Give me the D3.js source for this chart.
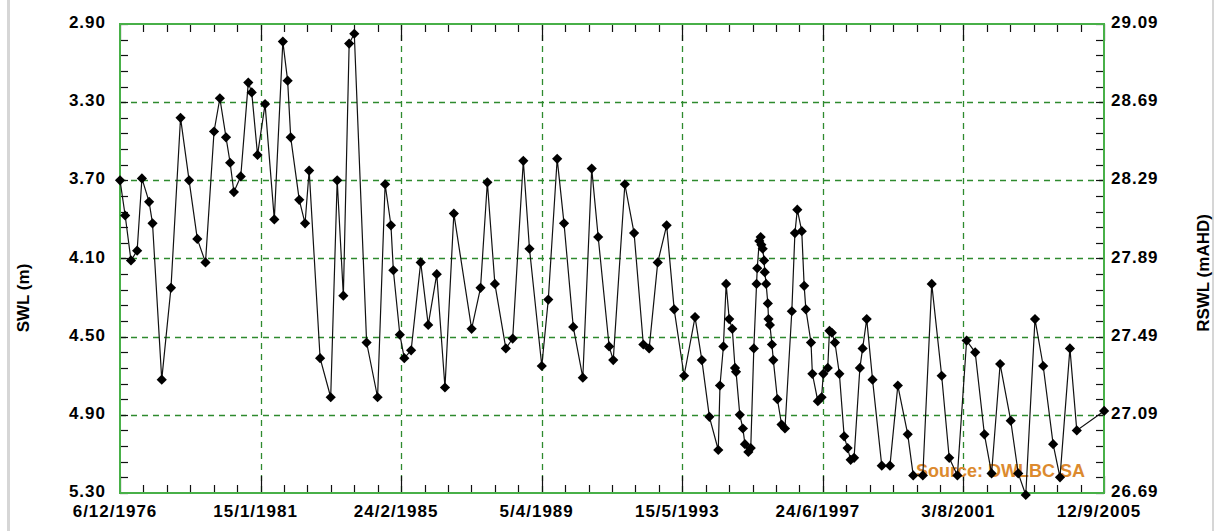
<!DOCTYPE html>
<html>
<head>
<meta charset="utf-8">
<script src="https://cdn.jsdelivr.net/npm/d3@7"></script>
<style>
  body { margin: 0; background: #fff; }
  svg text { font-family: "Liberation Sans", Arial, sans-serif; font-weight: bold; }
</style>
</head>
<body>
<div id="vis"></div>
<script>

const FRAME_WIDTH = 1214;
const FRAME_HEIGHT = 531;
const MARGINS = {left: 120, right: 110, top: 24, bottom: 38};

// observation dates (decimal years) and standing water level (m below surface)
const obsYear = [
  1976.93, 1977.08, 1977.25, 1977.43, 1977.57, 1977.78, 1977.88, 1978.15, 1978.42, 1978.70,
  1978.95, 1979.19, 1979.43, 1979.68, 1979.85, 1980.03, 1980.15, 1980.26, 1980.46, 1980.68,
  1980.78, 1980.95, 1981.17, 1981.44, 1981.69, 1981.83, 1981.92, 1982.17, 1982.34, 1982.46,
  1982.78, 1983.09, 1983.28, 1983.46, 1983.63, 1983.78, 1984.14, 1984.46, 1984.68, 1984.85,
  1984.92, 1985.11, 1985.24, 1985.44, 1985.72, 1985.94, 1986.19, 1986.43, 1986.69, 1987.21,
  1987.47, 1987.67, 1987.89, 1988.21, 1988.41, 1988.72, 1988.90, 1989.26, 1989.45, 1989.71,
  1989.91, 1990.18, 1990.46, 1990.72, 1990.91, 1991.23, 1991.35, 1991.69, 1991.96, 1992.23,
  1992.40, 1992.65, 1992.91, 1993.13, 1993.42, 1993.74, 1993.94, 1994.16, 1994.42, 1994.47,
  1994.57, 1994.65, 1994.74, 1994.83, 1994.91, 1994.94, 1995.05, 1995.14, 1995.20, 1995.30,
  1995.37, 1995.46, 1995.54, 1995.56, 1995.62, 1995.66, 1995.68, 1995.72, 1995.76, 1995.78,
  1995.82, 1995.87, 1995.89, 1995.93, 1995.99, 1996.03, 1996.15, 1996.27, 1996.37, 1996.57,
  1996.66, 1996.73, 1996.86, 1996.93, 1996.98, 1997.13, 1997.17, 1997.33, 1997.44, 1997.49,
  1997.62, 1997.67, 1997.74, 1997.83, 1997.96, 1998.10, 1998.20, 1998.29, 1998.39, 1998.56,
  1998.64, 1998.76, 1998.93, 1999.20, 1999.44, 1999.67, 1999.96, 2000.12, 2000.40, 2000.66,
  2000.95, 2001.17, 2001.41, 2001.68, 2001.93, 2002.20, 2002.41, 2002.66, 2002.97, 2003.19,
  2003.41, 2003.68, 2003.92, 2004.21, 2004.41, 2004.70, 2004.90, 2005.70
];

const swl = [
  3.70, 3.88, 4.11, 4.06, 3.69, 3.81, 3.92, 4.72, 4.25, 3.38,
  3.70, 4.00, 4.12, 3.45, 3.28, 3.48, 3.61, 3.76, 3.68, 3.20,
  3.25, 3.57, 3.31, 3.90, 2.99, 3.19, 3.48, 3.80, 3.92, 3.65,
  4.61, 4.81, 3.70, 4.29, 3.00, 2.95, 4.53, 4.81, 3.72, 3.93,
  4.16, 4.49, 4.61, 4.57, 4.12, 4.44, 4.18, 4.76, 3.87, 4.46,
  4.25, 3.71, 4.23, 4.56, 4.51, 3.60, 4.05, 4.65, 4.31, 3.59,
  3.92, 4.45, 4.71, 3.64, 3.99, 4.55, 4.62, 3.72, 3.97, 4.54,
  4.56, 4.12, 3.93, 4.36, 4.70, 4.40, 4.62, 4.91, 5.08, 4.75,
  4.55, 4.23, 4.41, 4.46, 4.66, 4.68, 4.90, 4.97, 5.05, 5.09,
  5.07, 4.56, 4.23, 4.15, 4.01, 3.99, 4.03, 4.05, 4.11, 4.17,
  4.23, 4.33, 4.41, 4.44, 4.54, 4.62, 4.82, 4.95, 4.97, 4.37,
  3.97, 3.85, 3.96, 4.24, 4.36, 4.53, 4.69, 4.83, 4.81, 4.69,
  4.66, 4.47, 4.48, 4.53, 4.69, 5.01, 5.07, 5.13, 5.12, 4.66,
  4.56, 4.41, 4.72, 5.16, 5.16, 4.75, 5.00, 5.21, 5.21, 4.23,
  4.70, 5.12, 5.21, 4.52, 4.58, 5.00, 5.20, 4.64, 4.93, 5.20,
  5.31, 4.41, 4.65, 5.05, 5.22, 4.56, 4.98, 4.88
];

const xTickLabels = ["6/12/1976", "15/1/1981", "24/2/1985", "5/4/1989",
                     "15/5/1993", "24/6/1997", "3/8/2001", "12/9/2005"];
const yTicks = [2.90, 3.30, 3.70, 4.10, 4.50, 4.90, 5.30];
const rightTickLabels = ["29.09", "28.69", "28.29", "27.89", "27.49", "27.09", "26.69"];

const VIS_LEFT = MARGINS.left;
const VIS_RIGHT = FRAME_WIDTH - MARGINS.right;
const VIS_TOP = MARGINS.top;
const VIS_BOTTOM = FRAME_HEIGHT - MARGINS.bottom;

const FRAME_GREEN = "#48b048";
const GRID_GREEN = "#2e8a2e";

const parseDate = d3.timeParse("%d/%m/%Y");
const xTickDates = xTickLabels.map(parseDate);

function yearToDate(y) {
  const yr = Math.floor(y);
  const s = new Date(yr, 0, 1), e = new Date(yr + 1, 0, 1);
  return new Date(+s + (y - yr) * (e - s));
}

const data = obsYear.map((y, i) => ({date: yearToDate(y), v: swl[i]}));

const X_SCALE = d3.scaleTime()
                  .domain([xTickDates[0], xTickDates[xTickDates.length - 1]])
                  .range([VIS_LEFT, VIS_RIGHT]);

const Y_SCALE = d3.scaleLinear()
                  .domain([2.90, 5.30])
                  .range([VIS_TOP, VIS_BOTTOM]);

const svg = d3.select("#vis")
              .append("svg")
                .attr("width", FRAME_WIDTH)
                .attr("height", FRAME_HEIGHT);

// grey window edges
svg.append("rect").attr("x", 7).attr("y", 0).attr("width", 3).attr("height", FRAME_HEIGHT)
   .attr("fill", "#d6d6d6");
svg.append("rect").attr("x", 1212).attr("y", 0).attr("width", 2).attr("height", FRAME_HEIGHT)
   .attr("fill", "#d6d6d6");

// grid
const grid = svg.append("g").attr("stroke", GRID_GREEN).attr("stroke-width", 1.3)
                .attr("stroke-dasharray", "6,5");
grid.selectAll("line.h")
    .data(yTicks.slice(1, -1))
    .enter().append("line")
      .attr("x1", VIS_LEFT).attr("x2", VIS_RIGHT)
      .attr("y1", d => Math.round(Y_SCALE(d)) + 0.5)
      .attr("y2", d => Math.round(Y_SCALE(d)) + 0.5);
grid.selectAll("line.v")
    .data(xTickDates.slice(1, -1))
    .enter().append("line")
      .attr("y1", VIS_TOP).attr("y2", VIS_BOTTOM)
      .attr("x1", d => Math.round(X_SCALE(d)) + 0.5)
      .attr("x2", d => Math.round(X_SCALE(d)) + 0.5);

// minor tick positions
const xMinor = [];
for (let i = 0; i < xTickDates.length - 1; i++) {
  const a = +xTickDates[i], b = +xTickDates[i + 1];
  for (let k = 1; k < 6; k++) xMinor.push(new Date(a + (b - a) * k / 6));
}
const yMinor = [];
for (let k = 0; k <= 30; k++) yMinor.push(2.90 + k * 0.08);

const ticks = svg.append("g").attr("stroke", "#111").attr("stroke-width", 1.2);
// top and bottom ticks
[[VIS_TOP, 1], [VIS_BOTTOM, -1]].forEach(([y0, dir]) => {
  ticks.selectAll(null).data(xMinor).enter().append("line")
    .attr("x1", d => Math.round(X_SCALE(d)) + 0.5).attr("x2", d => Math.round(X_SCALE(d)) + 0.5)
    .attr("y1", y0).attr("y2", y0 + dir * 8);
  ticks.selectAll(null).data(xTickDates).enter().append("line")
    .attr("x1", d => Math.round(X_SCALE(d)) + 0.5).attr("x2", d => Math.round(X_SCALE(d)) + 0.5)
    .attr("y1", y0).attr("y2", y0 + dir * 17);
});
// left and right ticks
[[VIS_LEFT, 1], [VIS_RIGHT, -1]].forEach(([x0, dir]) => {
  ticks.selectAll(null).data(yMinor).enter().append("line")
    .attr("y1", d => Math.round(Y_SCALE(d)) + 0.5).attr("y2", d => Math.round(Y_SCALE(d)) + 0.5)
    .attr("x1", x0).attr("x2", x0 + dir * 8);
});

// frame
svg.append("rect")
   .attr("x", VIS_LEFT).attr("y", VIS_TOP)
   .attr("width", VIS_RIGHT - VIS_LEFT).attr("height", VIS_BOTTOM - VIS_TOP)
   .attr("fill", "none").attr("stroke", FRAME_GREEN).attr("stroke-width", 2);

// tick labels
svg.selectAll("text.yl")
   .data(yTicks).enter().append("text")
     .attr("x", VIS_LEFT - 14)
     .attr("y", d => Y_SCALE(d) + 4)
     .attr("text-anchor", "end")
     .attr("font-size", "17px").attr("letter-spacing", "1px")
     .text(d => d.toFixed(2));

svg.selectAll("text.yr")
   .data(rightTickLabels).enter().append("text")
     .attr("x", VIS_RIGHT + 7)
     .attr("y", (d, i) => Y_SCALE(yTicks[i]) + 4)
     .attr("font-size", "17px").attr("letter-spacing", "1px")
     .text(d => d);

svg.selectAll("text.xl")
   .data(xTickDates).enter().append("text")
     .attr("x", d => X_SCALE(d) - 5)
     .attr("y", VIS_BOTTOM + 24)
     .attr("text-anchor", "middle")
     .attr("font-size", "17px").attr("letter-spacing", "1px")
     .text((d, i) => xTickLabels[i]);

// axis titles
svg.append("text")
   .attr("transform", "translate(29,298) rotate(-90)")
   .attr("text-anchor", "middle").attr("font-size", "17px")
   .text("SWL (m)");
svg.append("text")
   .attr("transform", "translate(1209,273) rotate(-90)")
   .attr("text-anchor", "middle").attr("font-size", "17px")
   .text("RSWL (mAHD)");

// source note
svg.append("text")
   .attr("x", 916).attr("y", 477)
   .attr("font-size", "18px").attr("fill", "#dc8a2e")
   .text("Source: DWLBC SA");

// series
const line = d3.line()
               .x(d => X_SCALE(d.date))
               .y(d => Y_SCALE(d.v));

svg.append("path")
   .datum(data)
   .attr("d", line)
   .attr("fill", "none")
   .attr("stroke", "#111")
   .attr("stroke-width", 1.2);

const diamond = d3.symbol().type(d3.symbolSquare).size(52);
svg.selectAll("path.pt")
   .data(data).enter().append("path")
     .attr("d", diamond)
     .attr("transform", d => "translate(" + X_SCALE(d.date) + "," + Y_SCALE(d.v) + ") rotate(45)")
     .attr("fill", "#000");

</script>
</body>
</html>
